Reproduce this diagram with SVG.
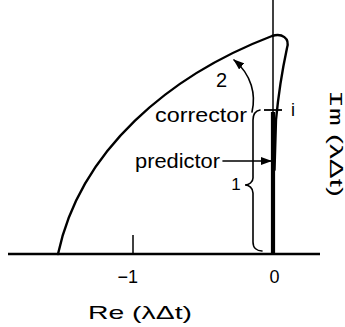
<svg xmlns="http://www.w3.org/2000/svg" width="345" height="327" viewBox="0 0 345 327">
<style>
.ax{stroke:#000;fill:none;stroke-linecap:butt}
.crv{stroke:#000;fill:none;stroke-width:2.4;stroke-linecap:round;stroke-linejoin:round}
.thin{stroke:#000;fill:none;stroke-width:1.6;stroke-linecap:round}
.lbl{font-family:"Liberation Sans",Arial,sans-serif;fill:#000}
</style>
<defs>
<marker id="ah" markerUnits="userSpaceOnUse" markerWidth="11" markerHeight="8" refX="10" refY="4" orient="auto">
<path d="M0,0 L11,4 L0,8 z" fill="#000"/>
</marker>
</defs>
<rect width="345" height="327" fill="#fff"/>
<g id="axes">
<line class="ax" x1="8" y1="254" x2="320" y2="254" stroke-width="2.6"/>
<line class="ax" x1="273" y1="0" x2="273" y2="254" stroke-width="1.5"/>
<line class="ax" x1="273" y1="112" x2="273" y2="254" stroke-width="4.2"/>
<line class="ax" x1="133" y1="235" x2="133" y2="254" stroke-width="1.5"/>
<line class="ax" x1="264" y1="110" x2="282" y2="110" stroke-width="1.8"/>
</g>
<g id="stability-curve">
<path class="crv" d="M58,254 C80,150 170,75 272,36 C282,33 290,38 287,48 C284,62 279,88 276,120 L274.5,170"/>
</g>
<g id="brace">
<path class="thin" d="M260,110 C255,111 253,114 253,120 L253,178 C253,182 249,185 245,185 C249,185 253,188 253,193 L253,242 C253,248 257,251 262,251"/>
</g>
<g id="connectors">
<path class="thin" d="M252,112 C256,95 252,75 234,60" marker-end="url(#ah)"/>
<path class="thin" d="M223,161 L271,161" marker-end="url(#ah)"/>
</g>
<g id="labels" class="lbl">
<text x="221.5" y="87" font-size="20" text-anchor="middle">2</text>
<text x="155" y="122" font-size="20" textLength="92" lengthAdjust="spacingAndGlyphs">corrector</text>
<text x="135" y="168" font-size="20" textLength="85" lengthAdjust="spacingAndGlyphs">predictor</text>
<text x="293" y="116" font-size="18" text-anchor="middle">i</text>
<text x="236" y="190" font-size="17" text-anchor="middle">1</text>
<text x="138" y="283" font-size="18" text-anchor="end">−1</text>
<text x="274.5" y="283" font-size="18" text-anchor="middle">0</text>
<text x="88" y="319" font-size="19" textLength="104" lengthAdjust="spacingAndGlyphs">Re (λΔt)</text>
<text transform="translate(330,90) rotate(90)" font-size="18" textLength="107" lengthAdjust="spacingAndGlyphs"><tspan font-family="Liberation Mono,monospace">Im</tspan> (λΔt)</text>
</g>
</svg>
